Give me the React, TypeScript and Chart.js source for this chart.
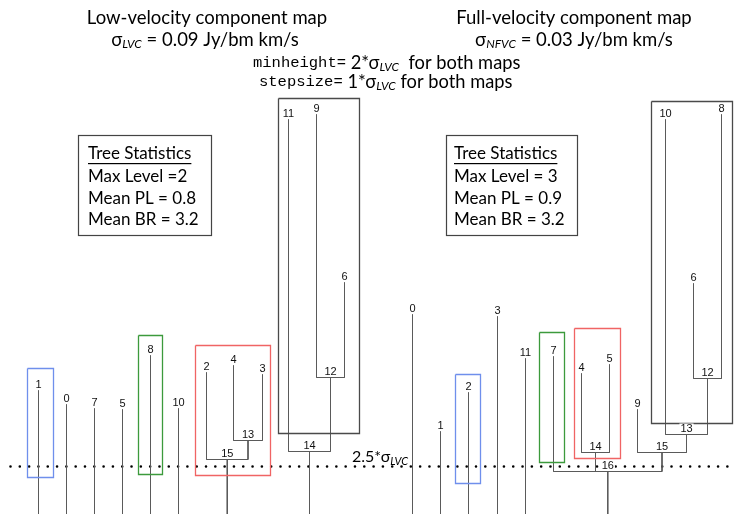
import React, { useEffect, useRef } from "react";
import { Chart, registerables } from "chart.js";
Chart.register(...registerables);

// ---- Data ----
// Left tree (low-velocity component map)
const leftLeafIds = [1, 0, 7, 5, 8, 10, 2, 4, 3, 11, 9, 6];
const leftLeafX = [38, 66, 94, 122, 150, 178, 206, 233, 262, 288, 316, 344];
const leftLeafTop = [390, 404, 408, 409, 355, 408, 372, 365, 374, 119, 114, 282];
const leftNodeIds = [13, 15, 12, 14];
const leftNodeChildren = [["L4", "L3"], ["L2", "N13"], ["L9", "L6"], ["L11", "N12"]];
const leftNodeLevel = [440, 459, 377, 451];

// Right tree (full-velocity component map)
const rightLeafIds = [0, 1, 2, 3, 11, 7, 4, 5, 9, 10, 6, 8];
const rightLeafX = [412, 440, 468, 497, 525, 553, 581, 609, 637, 665, 693, 721];
const rightLeafTop = [314, 431, 392, 316, 358, 356, 373, 364, 409, 119, 283, 114];
const rightNodeIds = [14, 12, 13, 15, 16];
const rightNodeChildren = [["L4", "L5"], ["L6", "L8"], ["L10", "N12"], ["L9", "N13"], ["L7", "N14", "N15"]];
const rightNodeLevel = [452, 378, 434, 452, 471];

// Highlight boxes
const boxX0 = [27, 138, 195, 278, 455, 539, 574, 651];
const boxX1 = [53, 162, 270, 359, 480, 564, 620, 732];
const boxY0 = [368, 335, 345, 98, 374, 332, 328, 101];
const boxY1 = [477, 474, 475, 433, 483, 462, 458, 423];
const boxColors = ["#6f8fec", "#3c9a3c", "#f06464", "#4a4a4a", "#6f8fec", "#3c9a3c", "#f06464", "#4a4a4a"];

// Threshold (2.5 sigma)
const thresholdLevel = 466;
const thresholdFrom = 10;
const thresholdTo = 734;
const baseLevel = 514;

// Tree statistics
const statsLeft = ["Max Level =2", "Mean PL = 0.8", "Mean BR = 3.2"];
const statsRight = ["Max Level = 3", "Mean PL = 0.9", "Mean BR = 3.2"];

const SANS = "Lato, 'Open Sans', sans-serif";
const MONO = "'Liberation Mono', 'DejaVu Sans Mono', monospace";
const NUMF = "11px 'Liberation Sans', Arial, sans-serif";

type Seg = { pts: { x: number; y: number }[]; color: string; width: number; dash?: number[]; cap?: CanvasLineCap };
type Lbl = { x: number; y: number; text: string };

function buildTree(leafIds: number[], leafX: number[], leafTop: number[], nodeIds: number[], nodeChildren: string[][], nodeLevel: number[]) {
  const pos: Record<string, { x: number; top: number }> = {};
  leafIds.forEach((id, i) => (pos["L" + id] = { x: leafX[i], top: leafTop[i] }));
  const parentOf: Record<string, number> = {};
  nodeChildren.forEach((ch, i) => ch.forEach((c) => (parentOf[c] = i)));
  const resolve = (key: string): { x: number; top: number } => {
    if (pos[key]) return pos[key];
    const i = nodeIds.indexOf(parseInt(key.slice(1)));
    const xs = nodeChildren[i].map((c) => resolve(c).x);
    const p = { x: (Math.min(...xs) + Math.max(...xs)) / 2, top: nodeLevel[i] };
    pos[key] = p;
    return p;
  };
  nodeIds.forEach((id) => resolve("N" + id));
  const segs: Seg[] = [];
  const labels: Lbl[] = [];
  Object.keys(pos).forEach((key) => {
    const p = pos[key];
    const pi = parentOf[key];
    const bottom = pi === undefined ? baseLevel : nodeLevel[pi];
    segs.push({ pts: [{ x: p.x, y: p.top }, { x: p.x, y: bottom }], color: "#5a5a5a", width: 1 });
    labels.push({ x: p.x, y: p.top - 6, text: key.slice(1) });
  });
  nodeIds.forEach((id, i) => {
    const xs = nodeChildren[i].map((c) => pos[c].x);
    segs.push({ pts: [{ x: Math.min(...xs), y: nodeLevel[i] }, { x: Math.max(...xs), y: nodeLevel[i] }], color: "#5a5a5a", width: 1 });
  });
  return { segs, labels };
}

type Part = { t: string; f: string; dy?: number };
function drawRich(ctx: CanvasRenderingContext2D, parts: Part[], x: number, y: number, align: "center" | "left") {
  let w = 0;
  parts.forEach((p) => {
    ctx.font = p.f;
    w += ctx.measureText(p.t).width;
  });
  let cx = align === "center" ? x - w / 2 : x;
  ctx.textAlign = "left";
  ctx.textBaseline = "middle";
  parts.forEach((p) => {
    ctx.font = p.f;
    ctx.fillText(p.t, cx, y + (p.dy || 0));
    cx += ctx.measureText(p.t).width;
  });
}

export default function App() {
  const ref = useRef<HTMLCanvasElement>(null);
  useEffect(() => {
    if (!ref.current) return;
    const L = buildTree(leftLeafIds, leftLeafX, leftLeafTop, leftNodeIds, leftNodeChildren, leftNodeLevel);
    const R = buildTree(rightLeafIds, rightLeafX, rightLeafTop, rightNodeIds, rightNodeChildren, rightNodeLevel);
    const segs: Seg[] = [];
    boxX0.forEach((_, i) => {
      segs.push({
        pts: [
          { x: boxX0[i], y: boxY0[i] },
          { x: boxX1[i], y: boxY0[i] },
          { x: boxX1[i], y: boxY1[i] },
          { x: boxX0[i], y: boxY1[i] },
          { x: boxX0[i], y: boxY0[i] },
        ],
        color: boxColors[i],
        width: 1.3,
      });
    });
    segs.push(...L.segs, ...R.segs);
    segs.push({
      pts: [{ x: thresholdFrom, y: thresholdLevel }, { x: thresholdTo, y: thresholdLevel }],
      color: "#000",
      width: 2.6,
      dash: [0.01, 9.3],
      cap: "round",
    });
    const labels = [...L.labels, ...R.labels];

    const textPlugin = {
      id: "texts",
      afterDatasetsDraw(chart: any) {
        const ctx: CanvasRenderingContext2D = chart.ctx;
        const xs = chart.scales.x;
        const ys = chart.scales.y;
        ctx.save();
        ctx.textAlign = "center";
        ctx.textBaseline = "middle";
        ctx.font = NUMF;
        labels.forEach((l) => {
          const px = xs.getPixelForValue(l.x);
          const py = ys.getPixelForValue(l.y);
          const w = ctx.measureText(l.text).width;
          ctx.fillStyle = "#fff";
          ctx.fillRect(px - w / 2 - 1, py - 5, w + 2, 10);
          ctx.fillStyle = "#111";
          ctx.fillText(l.text, px, py);
        });
        ctx.fillStyle = "#000";
        const T = `18.5px ${SANS}`;
        const S = `italic 12px ${SANS}`;
        drawRich(ctx, [{ t: "Low-velocity component map", f: T }], 207, 18, "center");
        drawRich(ctx, [{ t: "σ", f: T }, { t: "LVC", f: S, dy: 4 }, { t: " = 0.09 Jy/bm km/s", f: T }], 205, 40, "center");
        drawRich(ctx, [{ t: "Full-velocity component map", f: T }], 574, 18, "center");
        drawRich(ctx, [{ t: "σ", f: T }, { t: "NFVC", f: S, dy: 4 }, { t: " = 0.03 Jy/bm km/s", f: T }], 574, 40, "center");
        const M = `15.5px ${MONO}`;
        const T2 = `18.3px ${SANS}`;
        const S2 = `italic 12px ${SANS}`;
        drawRich(ctx, [{ t: "minheight=", f: M }, { t: " 2*σ", f: T2 }, { t: "LVC", f: S2, dy: 4 }, { t: "  for both maps", f: T2 }], 253, 63, "left");
        drawRich(ctx, [{ t: "stepsize=", f: M }, { t: " 1*σ", f: T2 }, { t: "LVC", f: S2, dy: 4 }, { t: " for both maps", f: T2 }], 259, 82, "left");
        const ST = `17px ${SANS}`;
        const boxes = [
          { x0: 78.5, x1: 211.5, tx: 88, lines: statsLeft },
          { x0: 446.5, x1: 577.5, tx: 454, lines: statsRight },
        ];
        boxes.forEach((b) => {
          ctx.strokeStyle = "#444";
          ctx.lineWidth = 1.2;
          ctx.strokeRect(b.x0, 135.5, b.x1 - b.x0, 100);
          ctx.fillStyle = "#000";
          ctx.font = ST;
          ctx.textAlign = "left";
          ctx.textBaseline = "middle";
          ctx.fillText("Tree Statistics", b.tx, 154);
          const w = ctx.measureText("Tree Statistics").width;
          ctx.fillRect(b.tx, 163, w, 1.2);
          b.lines.forEach((ln, i) => ctx.fillText(ln, b.tx, 177 + i * 21.5));
        });
        drawRich(ctx, [{ t: "2.5*σ", f: `16px ${SANS}` }, { t: "LVC", f: `italic 11px ${SANS}`, dy: 4 }], 352, 457, "left");
        ctx.restore();
      },
    };

    const chart = new Chart(ref.current, {
      type: "scatter",
      data: {
        datasets: segs.map((s) => ({
          data: s.pts,
          showLine: true,
          borderColor: s.color,
          borderWidth: s.width,
          borderDash: s.dash || [],
          borderCapStyle: s.cap || "butt",
          pointRadius: 0,
          pointHoverRadius: 0,
          fill: false,
          tension: 0,
        })),
      },
      options: {
        animation: false,
        responsive: false,
        devicePixelRatio: 1,
        layout: { padding: 0 },
        plugins: { legend: { display: false }, tooltip: { enabled: false } },
        events: [],
        scales: {
          x: { type: "linear", min: -0.5, max: 734.5, display: false },
          y: { type: "linear", min: -0.5, max: 513.5, reverse: true, display: false },
        },
      },
      plugins: [textPlugin],
    } as any);
    return () => chart.destroy();
  }, []);
  return (
    <div style={{ position: "absolute", left: 0, top: 0, width: 735, height: 514, background: "#fff" }}>
      <canvas ref={ref} width={735} height={514} />
    </div>
  );
}
